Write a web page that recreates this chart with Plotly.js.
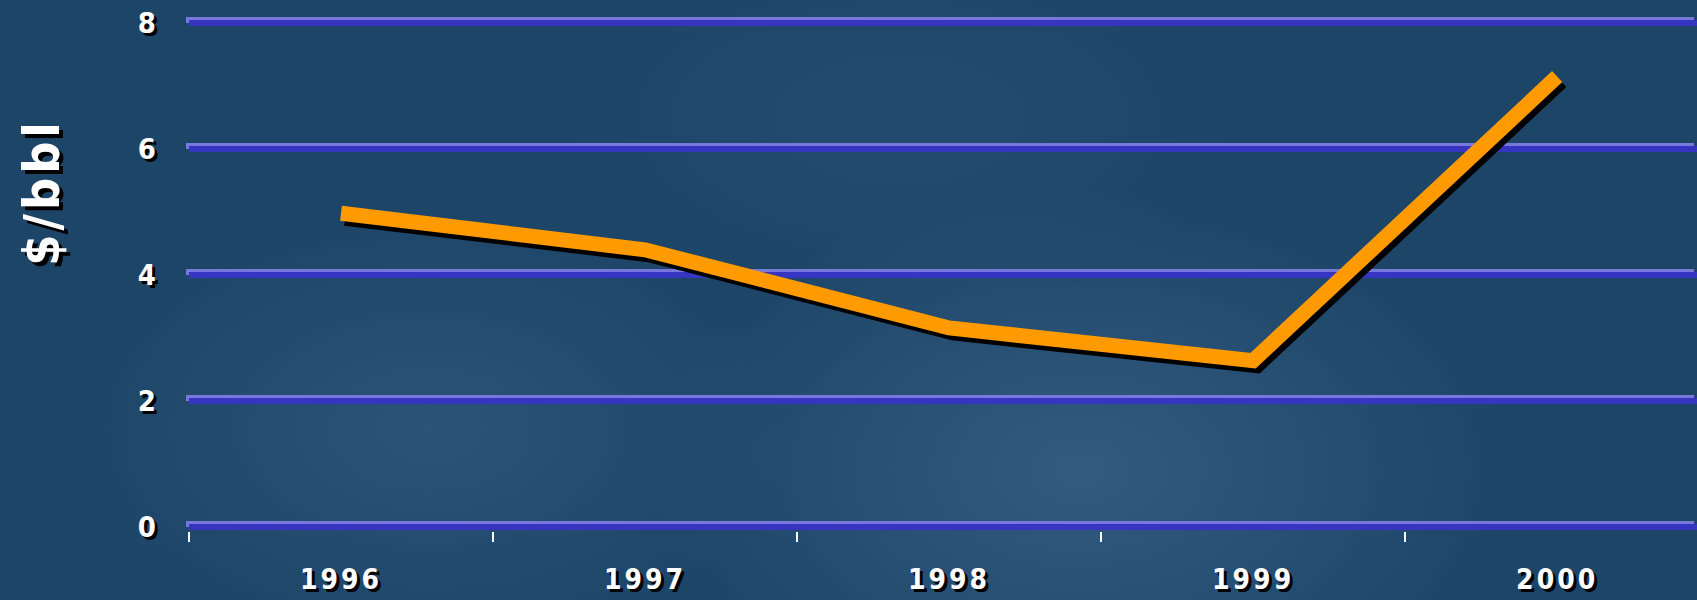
<!DOCTYPE html>
<html>
<head>
<meta charset="utf-8">
<script src="https://cdn.plot.ly/plotly-3.0.1.min.js"></script>
<style>
  html, body { margin: 0; padding: 0; }
  body {
    width: 1697px; height: 600px; overflow: hidden;
    background:
      radial-gradient(ellipse 620px 400px at 1080px 470px, rgba(95,135,175,0.33), rgba(95,135,175,0) 70%),
      radial-gradient(ellipse 520px 320px at 430px 430px, rgba(85,125,165,0.26), rgba(85,125,165,0) 70%),
      radial-gradient(ellipse 500px 260px at 900px 120px, rgba(70,110,150,0.16), rgba(70,110,150,0) 70%),
      #1d4568;
  }
  #chart { width: 1697px; height: 600px; }
  .ygrid { filter: drop-shadow(-3px -3px 0 #7878dc); }
  .scatterlayer .js-line { filter: drop-shadow(4px 5px 0 #000); }
  .xtick text { letter-spacing: 3px; }
  .annotation-text { letter-spacing: 4px; }
</style>
</head>
<body>
<div id="chart"></div>
<script>
// ---- data ----
const years = ["1996", "1997", "1998", "1999", "2000"];
const pricePerBbl = [4.98, 4.40, 3.16, 2.64, 7.15];
const yTickValues = [0, 2, 4, 6, 8];
const yTitleText = "$/bbl";

const FONT = "'DejaVu Sans Condensed', 'DejaVu Sans', sans-serif";

const trace = {
  type: "scatter",
  mode: "lines",
  x: years,
  y: pricePerBbl,
  line: { color: "#ff9a00", width: 15 },
  hoverinfo: "skip",
  showlegend: false
};

const layout = {
  width: 1697,
  height: 600,
  margin: { l: 189, r: 0, t: 19, b: 69 },
  paper_bgcolor: "rgba(0,0,0,0)",
  plot_bgcolor: "rgba(0,0,0,0)",
  showlegend: false,
  xaxis: {
    type: "category",
    range: [-0.5, 4.46],
    tickson: "boundaries",
    ticks: "outside",
    ticklen: 10,
    tickwidth: 1.5,
    tickcolor: "#ffffff",
    showgrid: false,
    zeroline: false,
    showline: false,
    ticklabelstandoff: 29,
    tickfont: { family: FONT, size: 28, weight: "bold", color: "#ffffff", shadow: "3px 3px 0px #000" }
  },
  yaxis: {
    range: [-0.0635, 8.0635],
    tickvals: yTickValues,
    ticktext: yTickValues.map(String),
    showgrid: true,
    gridcolor: "#3535c2",
    gridwidth: 6,
    zeroline: false,
    showline: false,
    ticks: "",
    ticklabelstandoff: 32,
    tickfont: { family: FONT, size: 29, weight: "bold", color: "#ffffff", shadow: "3px 3px 0px #000" }
  },
  annotations: [{
    text: yTitleText,
    xref: "paper", yref: "paper",
    x: -0.098, y: 0.663,
    xanchor: "center", yanchor: "middle",
    textangle: -90,
    showarrow: false,
    font: { family: FONT, size: 50, weight: "bold", color: "#ffffff", shadow: "-4px 4px 0px #000" }
  }]
};

Plotly.newPlot("chart", [trace], layout, { displayModeBar: false, staticPlot: true });
</script>
</body>
</html>
